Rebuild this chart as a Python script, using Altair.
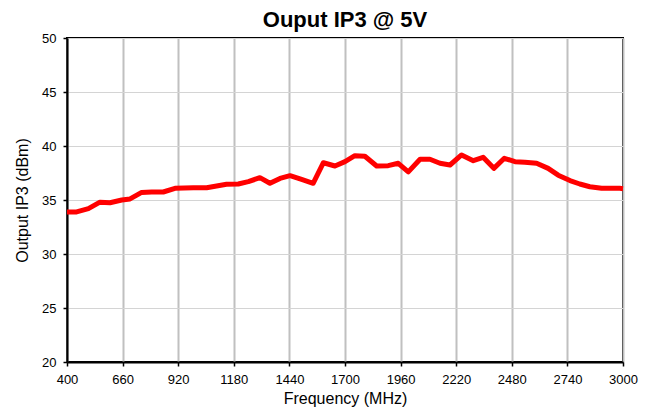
import altair as alt
import pandas as pd

freq = [400, 445, 500, 554, 601, 656, 695, 749, 796, 850, 905, 991, 1053, 1146, 1201,
        1248, 1302, 1349, 1396, 1443, 1497, 1551, 1599, 1653, 1700, 1746, 1793, 1848,
        1902, 1949, 1996, 2051, 2097, 2144, 2191, 2245, 2300, 2346, 2396, 2445, 2495,
        2541, 2596, 2650, 2697, 2752, 2798, 2845, 2900, 2985, 3000]
oip3 = [33.9, 33.9, 34.2, 34.8, 34.75, 35.0, 35.1, 35.7, 35.74, 35.74, 36.08, 36.14,
        36.14, 36.45, 36.48, 36.7, 37.07, 36.55, 37.0, 37.25, 36.9, 36.55, 38.45, 38.15,
        38.55, 39.1, 39.05, 38.15, 38.18, 38.4, 37.6, 38.77, 38.77, 38.4, 38.24, 39.17,
        38.64, 38.95, 37.93, 38.86, 38.55, 38.5, 38.4, 37.93, 37.3, 36.8, 36.48, 36.23,
        36.08, 36.08, 36.05]
x_ticks = [400, 660, 920, 1180, 1440, 1700, 1960, 2220, 2480, 2740, 3000]
y_ticks = [20, 25, 30, 35, 40, 45, 50]

df = pd.DataFrame({"freq": freq, "oip3": oip3})

font = "Liberation Sans"

chart = alt.Chart(df).mark_line(color="#ff0000", strokeWidth=5, strokeJoin="round").encode(
    x=alt.X("freq:Q", title="Frequency (MHz)",
            scale=alt.Scale(domain=[400, 3000], nice=False, zero=False),
            axis=alt.Axis(values=x_ticks, format="d", labelFlush=False,
                          grid=True, gridColor="#c0c0c0", gridWidth=2,
                          domainColor="black", domainWidth=2, tickColor="black",
                          tickSize=4, tickWidth=1.5, labelFontSize=13, labelColor="black",
                          titleFontSize=16, titleFontWeight="normal", titleColor="black",
                          labelPadding=7, titlePadding=4, labelFont=font, titleFont=font)),
    y=alt.Y("oip3:Q", title="Output IP3 (dBm)",
            scale=alt.Scale(domain=[20, 50], nice=False, zero=False),
            axis=alt.Axis(values=y_ticks, format="d", labelFlush=False,
                          grid=True, gridColor="#d4d4d4", gridWidth=1,
                          domainColor="black", domainWidth=2, tickColor="black",
                          tickSize=4, tickWidth=1.5, labelFontSize=13, labelColor="black",
                          titleFontSize=16, titleFontWeight="normal", titleColor="black",
                          labelPadding=7, titlePadding=11, labelFont=font, titleFont=font)),
).properties(
    width=556, height=324,
    title=alt.TitleParams("Ouput IP3 @ 5V", fontSize=22, fontWeight="bold", font=font,
                          color="black", offset=0),
    autosize=alt.AutoSizeParams(type="none"),
    padding={"left": 59, "top": 30, "right": 16, "bottom": 49},
).configure_view(stroke="black", strokeWidth=2)

chart.save("out.html", embed_options={"renderer": "svg", "actions": False})
